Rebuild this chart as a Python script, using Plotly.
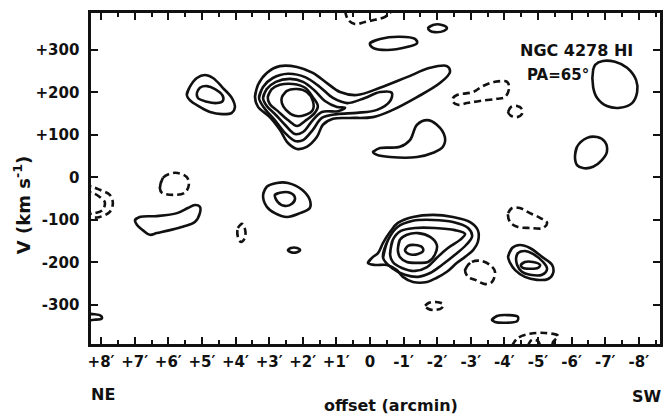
import plotly.graph_objects as go

# ---- axis ticks ----
x_tick_vals = list(range(-8, 9))
x_tick_text = ["-8′", "-7′", "-6′", "-5′", "-4′", "-3′", "-2′", "-1′", "0",
               "+1′", "+2′", "+3′", "+4′", "+5′", "+6′", "+7′", "+8′"]
y_tick_vals = [-300, -200, -100, 0, 100, 200, 300]
y_tick_text = ["-300", "-200", "-100", "0", "+100", "+200", "+300"]

# ---- contours: (offset arcmin, velocity km/s) ----
# main emission complex near +2', +180 km/s
main_l1 = [(3.42, 189), (3.33, 218), (3.07, 246), (2.68, 262), (2.17, 260), (1.70, 246),
           (1.28, 222), (0.89, 201), (0.39, 194), (-0.30, 211), (-1.10, 236), (-1.79, 258),
           (-2.29, 262), (-2.38, 248), (-2.08, 222), (-1.40, 189), (-0.68, 159), (-0.09, 142),
           (0.60, 140), (1.10, 138), (1.40, 124), (1.58, 95), (1.88, 72), (2.17, 67),
           (2.44, 81), (2.68, 112), (2.98, 142), (3.33, 166)]
main_l2 = [(3.30, 187), (3.18, 213), (2.89, 234), (2.44, 244), (1.93, 236), (1.49, 213),
           (1.10, 187), (0.68, 175), (0.15, 187), (-0.30, 201), (-0.65, 199), (-0.60, 180),
           (-0.21, 159), (0.39, 152), (0.98, 149), (1.43, 140), (1.70, 112), (1.99, 88),
           (2.23, 86), (2.53, 105), (2.83, 135), (3.15, 164)]
main_l3 = [(3.18, 187), (3.07, 208), (2.80, 225), (2.38, 232), (1.99, 225), (1.64, 204),
           (1.34, 180), (0.98, 166), (0.74, 164), (0.95, 156), (1.43, 154), (1.70, 135),
           (1.99, 107), (2.23, 102), (2.53, 124), (2.80, 147), (3.07, 168)]
main_l4 = [(3.04, 189), (2.92, 208), (2.68, 218), (2.29, 220), (1.93, 211), (1.70, 189),
           (1.55, 168), (1.64, 152), (1.93, 133), (2.17, 121), (2.44, 135), (2.74, 156),
           (2.98, 173)]
main_l5 = [(2.62, 189), (2.47, 204), (2.17, 208), (1.88, 201), (1.70, 180), (1.70, 159),
           (1.93, 147), (2.23, 145), (2.50, 159), (2.62, 175)]

# receding complex near -1.3', -165 km/s
low_l1 = [(0.06, -201), (-0.09, -187), (-0.24, -178), (-0.39, -154), (-0.60, -128),
          (-0.83, -107), (-1.28, -93), (-1.88, -88), (-2.47, -93), (-2.98, -105),
          (-3.21, -124), (-3.21, -152), (-3.07, -171), (-2.83, -187), (-2.59, -201),
          (-2.29, -222), (-1.99, -236), (-1.70, -246), (-1.28, -246), (-0.98, -234),
          (-0.80, -218), (-0.51, -206), (-0.15, -206)]
low_l2 = [(-0.39, -189), (-0.54, -147), (-0.83, -116), (-1.28, -102), (-1.88, -100),
          (-2.47, -105), (-2.92, -119), (-3.04, -138), (-2.86, -159), (-2.53, -182),
          (-2.14, -206), (-1.79, -225), (-1.43, -234), (-1.04, -229), (-0.65, -213)]
low_l3 = [(-0.60, -182), (-0.68, -147), (-0.92, -126), (-1.34, -119), (-1.93, -119),
          (-2.53, -124), (-2.83, -133), (-2.68, -147), (-2.32, -166), (-1.99, -189),
          (-1.70, -211), (-1.34, -220), (-0.95, -213), (-0.68, -199)]
low_l4 = [(-0.83, -171), (-0.89, -147), (-1.10, -135), (-1.43, -131), (-1.79, -140),
          (-1.99, -159), (-1.93, -182), (-1.73, -199), (-1.43, -201), (-1.10, -199),
          (-0.89, -187)]
low_l5 = [(-1.04, -171), (-1.13, -161), (-1.34, -159), (-1.55, -164), (-1.58, -173),
          (-1.43, -180), (-1.25, -182), (-1.10, -178)]

# blob near -5', -200 km/s
sw_l1 = [(-4.11, -187), (-4.23, -166), (-4.46, -159), (-4.76, -166), (-5.12, -187),
         (-5.42, -206), (-5.45, -225), (-5.30, -239), (-4.97, -241), (-4.61, -234),
         (-4.32, -218), (-4.17, -201)]
sw_l2 = [(-4.35, -189), (-4.40, -178), (-4.61, -173), (-4.85, -180), (-5.15, -199),
         (-5.27, -215), (-5.12, -229), (-4.76, -229), (-4.52, -222), (-4.38, -206)]
sw_l3 = [(-4.49, -206), (-4.61, -199), (-4.85, -199), (-5.06, -206), (-5.00, -213),
         (-4.76, -215), (-4.55, -213)]

# blob near +5', +200 km/s
ne_hi_l1 = [(5.45, 194), (5.36, 213), (5.15, 234), (4.91, 241), (4.67, 234), (4.38, 211),
            (4.11, 187), (4.02, 164), (4.11, 152), (4.40, 149), (4.76, 154), (5.06, 166),
            (5.36, 182)]
ne_hi_l2 = [(5.15, 199), (5.06, 211), (4.85, 215), (4.61, 208), (4.38, 192), (4.38, 180),
            (4.55, 175), (4.85, 178), (5.12, 187)]

# blob near +2.5', -50 km/s
mid_l1 = [(3.18, -41), (3.07, -22), (2.77, -13), (2.44, -13), (2.02, -29), (1.79, -53),
          (1.79, -72), (2.08, -84), (2.47, -93), (2.83, -84), (3.07, -69)]
mid_l2 = [(2.83, -41), (2.68, -36), (2.38, -36), (2.23, -48), (2.32, -62), (2.53, -67),
          (2.74, -58)]

# single positive contours
ne_low = [(6.99, -100), (6.85, -93), (6.34, -91), (5.74, -84), (5.42, -72), (5.21, -65),
          (5.06, -69), (5.06, -84), (5.21, -105), (5.57, -116), (5.95, -124), (6.34, -131),
          (6.55, -135), (6.76, -124), (6.93, -112)]
small_mid = [(2.44, -171), (2.35, -166), (2.17, -166), (2.08, -171), (2.17, -176),
             (2.35, -176)]
top_blob = [(0.00, 316), (-0.30, 326), (-0.89, 331), (-1.34, 326), (-1.40, 316),
            (-1.10, 307), (-0.51, 300), (-0.09, 305)]
top_small = [(-1.73, 352), (-1.88, 359), (-2.14, 359), (-2.29, 352), (-2.20, 345),
             (-1.93, 342), (-1.79, 345)]
hook_blob = [(-0.09, 60), (-0.30, 69), (-0.89, 72), (-1.19, 88), (-1.40, 124), (-1.70, 135),
             (-1.99, 124), (-2.23, 95), (-2.17, 72), (-1.88, 58), (-1.40, 48), (-0.60, 48),
             (-0.21, 53)]
far_sw_hi = [(-6.64, 253), (-6.70, 265), (-6.93, 274), (-7.29, 272), (-7.65, 258),
             (-7.92, 229), (-7.95, 201), (-7.80, 175), (-7.44, 164), (-7.05, 168),
             (-6.76, 187), (-6.64, 213)]
far_sw_mid = [(-6.10, 48), (-6.16, 72), (-6.46, 93), (-6.76, 95), (-6.99, 84), (-7.05, 60),
              (-6.90, 41), (-6.64, 25), (-6.34, 22), (-6.16, 29)]
low_small = [(-3.63, -335), (-3.78, -326), (-4.11, -324), (-4.40, -328), (-4.38, -338),
             (-4.02, -342), (-3.72, -340)]
edge_blob = [(8.45, -322), (8.20, -322), (8.00, -326), (7.98, -332), (8.20, -335),
             (8.45, -335)]

# negative (dashed) contours
neg_ne = [(6.25, -25), (6.16, -1), (5.80, 11), (5.45, 1), (5.39, -18), (5.51, -36),
          (5.86, -41), (6.19, -36)]
neg_edge_outer = [(8.50, -20), (8.27, -22), (8.04, -29), (7.74, -41), (7.65, -60),
                  (7.74, -81), (8.04, -93), (8.27, -95), (8.50, -96)]
neg_edge_inner = [(8.50, -34), (8.27, -36), (8.04, -46), (7.89, -58), (7.95, -76),
                  (8.18, -84), (8.50, -86)]
neg_small_ne = [(3.93, -119), (3.81, -109), (3.72, -121), (3.72, -142), (3.84, -152),
                (3.93, -140)]
neg_sw_low = [(-2.83, -218), (-2.98, -201), (-3.27, -196), (-3.57, -206), (-3.72, -222),
              (-3.63, -246), (-3.42, -251), (-3.13, -241), (-2.92, -234)]
neg_sw_mid = [(-4.11, -84), (-4.23, -72), (-4.46, -72), (-4.76, -84), (-5.06, -95),
              (-5.27, -107), (-5.15, -119), (-4.76, -119), (-4.38, -116), (-4.17, -105)]
neg_tiny = [(-1.64, -302), (-1.76, -295), (-1.96, -293), (-2.17, -298), (-2.14, -307),
            (-1.93, -312), (-1.73, -309)]
neg_bottom_outer = [(-4.23, -396), (-4.40, -378), (-4.76, -368), (-5.21, -366),
                    (-5.60, -373), (-5.45, -387), (-5.42, -401)]
neg_bottom_inner = [(-4.70, -396), (-4.82, -382), (-5.00, -385), (-5.06, -396)]
neg_top = [(0.74, 392), (0.65, 371), (0.45, 361), (0.15, 366), (-0.15, 371), (-0.45, 378),
           (-0.65, 392)]
neg_hi_sw = [(-2.47, 187), (-2.59, 194), (-3.07, 201), (-3.36, 215), (-3.72, 225),
             (-4.08, 225), (-4.14, 211), (-4.02, 189), (-3.78, 185), (-3.27, 180),
             (-2.89, 175), (-2.62, 171), (-2.47, 178)]
neg_hi_small = [(-4.11, 154), (-4.20, 166), (-4.38, 168), (-4.52, 161), (-4.52, 149),
                (-4.38, 142), (-4.20, 145)]

closed_solid = [main_l1, main_l2, main_l3, main_l4, main_l5,
                low_l1, low_l2, low_l3, low_l4, low_l5,
                sw_l1, sw_l2, sw_l3, ne_hi_l1, ne_hi_l2, mid_l1, mid_l2,
                ne_low, small_mid, top_blob, top_small, hook_blob,
                far_sw_hi, far_sw_mid, low_small, edge_blob]
closed_dashed = [neg_ne, neg_small_ne, neg_sw_low, neg_sw_mid, neg_tiny,
                 neg_hi_sw, neg_hi_small]
open_dashed = [neg_edge_outer, neg_edge_inner, neg_bottom_outer, neg_bottom_inner, neg_top]

fig = go.Figure()


def add_path(pts, closed, dash):
    xs = [p[0] for p in pts]
    ys = [p[1] for p in pts]
    if closed:
        xs = xs + xs[:2]
        ys = ys + ys[:2]
    fig.add_trace(go.Scatter(
        x=xs, y=ys, mode="lines",
        line=dict(color="#111111", width=2.6, dash=dash, shape="spline", smoothing=1.0),
        hoverinfo="skip", showlegend=False))


for c in closed_solid:
    add_path(c, True, "solid")
for c in closed_dashed:
    add_path(c, True, "7px,4px")
for c in open_dashed:
    add_path(c, False, "7px,4px")

tick_font = dict(family="DejaVu Sans", size=15, color="#111111", weight="bold")

fig.update_xaxes(
    range=[8.3, -8.63], tickmode="array", tickvals=x_tick_vals, ticktext=x_tick_text,
    ticks="inside", ticklen=7, tickwidth=2, tickcolor="#111111",
    showline=True, linewidth=2.6, linecolor="#111111", mirror="ticks",
    showgrid=False, zeroline=False, tickfont=tick_font, ticklabelstandoff=2,
    automargin=False,
    minor=dict(tickvals=[v + 0.5 for v in range(-9, 9)], ticks="inside", ticklen=4,
               tickwidth=2, tickcolor="#111111", showgrid=False),
)
fig.update_yaxes(
    range=[-392, 387], tickmode="array", tickvals=y_tick_vals, ticktext=y_tick_text,
    ticks="inside", ticklen=7, tickwidth=2, tickcolor="#111111",
    showline=True, linewidth=2.6, linecolor="#111111", mirror="ticks",
    showgrid=False, zeroline=False, tickfont=tick_font, ticklabelstandoff=6,
    automargin=False,
)

ann_font = dict(family="DejaVu Sans", color="#111111", weight="bold")
annotations = [
    dict(text="V (km s<sup>-1</sup>)", x=-0.121, y=0.42, textangle=-90,
         font=dict(size=18, **ann_font)),
    dict(text="offset (arcmin)", x=0.527, y=-0.187, font=dict(size=16, **ann_font)),
    dict(text="NE", x=0.021, y=-0.154, font=dict(size=16, **ann_font)),
    dict(text="SW", x=0.977, y=-0.160, font=dict(size=16, **ann_font)),
    dict(text="NGC 4278 HI", x=0.854, y=0.888, font=dict(size=16, **ann_font)),
    dict(text="PA=65°", x=0.821, y=0.813, font=dict(size=15, **ann_font)),
]
for a in annotations:
    a.update(xref="paper", yref="paper", showarrow=False, xanchor="center", yanchor="middle")

fig.update_layout(
    width=665, height=417,
    margin=dict(l=91, r=5, t=13, b=73, autoexpand=False),
    paper_bgcolor="white", plot_bgcolor="white",
    annotations=annotations,
)

fig.write_html("out.html",
               config={"displayModeBar": False, "staticPlot": True},
               post_script="document.body.style.margin='0px';"
                           "document.body.style.overflow='hidden';")
